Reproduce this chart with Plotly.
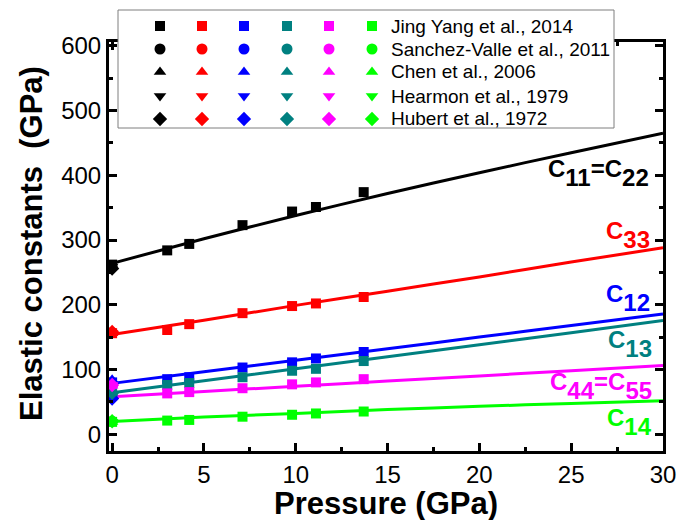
import plotly.graph_objects as go

W, H = 693, 520

# ---------------- data ----------------
constant_labels = [
    "C<sub>11</sub>=C<sub>22</sub>",
    "C<sub>33</sub>",
    "C<sub>12</sub>",
    "C<sub>13</sub>",
    "C<sub>44</sub>=C<sub>55</sub>",
    "C<sub>14</sub>",
]
colors = ["#000000", "#FF0000", "#0000FF", "#008080", "#FF00FF", "#00FF00"]

references = [
    "Jing Yang et al., 2014",
    "Sanchez-Valle et al., 2011",
    "Chen et al., 2006",
    "Hearmon et al., 1979",
    "Hubert et al., 1972",
]
symbols = ["square", "circle", "triangle-up", "triangle-down", "diamond"]

# Jing Yang et al., 2014 (squares), pressure in GPa
jy_pressure = [0, 3.0, 4.2, 7.1, 9.8, 11.1, 13.7]
jy_c11 = [262, 284, 294, 323, 344, 351, 374]
jy_c33 = [156, 161, 170, 187, 198, 202, 212]
jy_c12 = [80, 85, 88, 103, 111, 117, 127]
jy_c13 = [64, 76, 79, 88, 98, 101, 113]
jy_c44 = [60, 63, 65, 71, 77, 80, 85]
jy_c14 = [19, 21, 22, 27, 30, 32, 35]
jy_values = [jy_c11, jy_c33, jy_c12, jy_c13, jy_c44, jy_c14]

# ambient-pressure literature values [C11, C33, C12, C13, C44, C14]
ambient_pressure = [0]
sv_2011 = [259, 157, 76, 60, 75, 20]
chen_2006 = [259, 156, 84, 59, 75, 19]
hearmon_1979 = [259, 156, 76, 59, 76, 19]
hubert_1972 = [256, 158, 55, 64, 76, 20]
ambient_values = [sv_2011, chen_2006, hearmon_1979, hubert_1972]

# fitted curves
fit_pressure = [0, 5, 10, 15, 20, 25, 30]
fit_c11 = [264, 302, 338, 372, 404, 435, 465]
fit_c33 = [154, 176, 199, 221, 243, 266, 288]
fit_c12 = [78.5, 96.4, 114.2, 132.1, 150, 167.9, 185.7]
fit_c13 = [64, 82.6, 101.2, 119.8, 138.3, 156.9, 175.5]
fit_c44 = [58, 66, 74, 82, 90, 98, 106]
fit_c14 = [19.5, 26.5, 32, 38, 43, 47.5, 51.5]
fit_values = [fit_c11, fit_c33, fit_c12, fit_c13, fit_c44, fit_c14]

x_ticks = [0, 5, 10, 15, 20, 25, 30]
y_ticks = [0, 100, 200, 300, 400, 500, 600]

# ---------------- helpers (layout, pixels -> paper) ----------------
def px(x):
    return x / W

def py(y):
    return 1 - y / H

FONT = "Liberation Sans, Arial, sans-serif"

fig = go.Figure()

# fitted lines
for vals, col in zip(fit_values, colors):
    fig.add_trace(go.Scatter(x=fit_pressure, y=vals, mode="lines",
                             line=dict(color=col, width=3, shape="spline", smoothing=0.6),
                             xaxis="x", yaxis="y", hoverinfo="skip"))

# Jing Yang data
for vals, col in zip(jy_values, colors):
    fig.add_trace(go.Scatter(x=jy_pressure, y=vals, mode="markers",
                             marker=dict(symbol=symbols[0], size=10, color=col),
                             xaxis="x", yaxis="y"))

# ambient literature values
for ref_vals, sym in zip(ambient_values, symbols[1:]):
    for v, col in zip(ref_vals, colors):
        fig.add_trace(go.Scatter(x=ambient_pressure, y=[v], mode="markers",
                                 marker=dict(symbol=sym, size=11, color=col),
                                 xaxis="x", yaxis="y"))

# ---------------- custom legend (grid of markers) ----------------
leg_rows = [26, 49, 72, 96, 119]
leg_cols = [160, 202, 244, 287, 329, 372]
leg_text_x = 389
for r, (ref, sym) in enumerate(zip(references, symbols)):
    fig.add_trace(go.Scatter(
        x=leg_cols, y=[leg_rows[r]] * len(leg_cols), mode="markers",
        marker=dict(symbol=sym, size=11 if sym != "square" else 10, color=colors),
        xaxis="x2", yaxis="y2", hoverinfo="skip"))

shapes = [dict(type="rect", xref="x2", yref="y2", x0=118, x1=614, y0=10, y1=128,
               fillcolor="white", line=dict(color="#7f7f7f", width=1), layer="below")]

annotations = []
for r, ref in enumerate(references):
    annotations.append(dict(x=px(leg_text_x), y=py(leg_rows[r]), xref="paper", yref="paper",
                            text=ref, showarrow=False, xanchor="left", yanchor="middle",
                            font=dict(family=FONT, size=19, color="black")))

# constant labels (right aligned)
label_pos = [(651, 173), (652, 235), (652, 298), (654, 344), (654, 386), (654, 422)]
for lab, col, (lx, ly) in zip(constant_labels, colors, label_pos):
    t = lab.replace("<sub>", "<sub><sub><span style='font-size:24px'>").replace("</sub>", "</span></sub></sub>")
    annotations.append(dict(x=px(lx), y=py(ly), xref="paper", yref="paper", text="<b>" + t + "</b>",
                            showarrow=False, xanchor="right", yanchor="middle",
                            font=dict(family=FONT, size=24, color=col)))

# axis titles
annotations.append(dict(x=px(31), y=py(244), xref="paper", yref="paper",
                        text="<b>Elastic constants&nbsp; (GPa)</b>", textangle=-90, showarrow=False,
                        xanchor="center", yanchor="middle", font=dict(family=FONT, size=31, color="black")))
annotations.append(dict(x=px(386), y=py(503), xref="paper", yref="paper",
                        text="<b>Pressure (GPa)</b>", showarrow=False,
                        xanchor="center", yanchor="middle", font=dict(family=FONT, size=31, color="black")))

axis_common = dict(showline=True, linewidth=3, linecolor="black", mirror="allticks",
                   ticks="inside", ticklen=8, tickwidth=2.5, tickcolor="black",
                   showgrid=False, zeroline=False, automargin=False,
                   tickfont=dict(family=FONT, size=24, color="black"))

fig.update_layout(
    template="none",
    width=W, height=H, margin=dict(l=0, r=0, t=0, b=0, pad=0, autoexpand=False),
    paper_bgcolor="white", plot_bgcolor="rgba(0,0,0,0)", showlegend=False,
    xaxis=dict(domain=[px(109), px(663)], range=[-0.17, 30], tickvals=x_ticks,
               minor=dict(dtick=2.5, tick0=0, ticks="inside", ticklen=4, tickwidth=2.5, tickcolor="black"),
               anchor="y", **axis_common),
    yaxis=dict(domain=[py(451), py(42)], range=[-26, 606], tickvals=y_ticks,
               minor=dict(dtick=50, tick0=0, ticks="inside", ticklen=4, tickwidth=2.5, tickcolor="black"),
               anchor="x", **axis_common),
    xaxis2=dict(domain=[0, 1], range=[0, W], visible=False, anchor="y2", fixedrange=True, automargin=False),
    yaxis2=dict(domain=[0, 1], range=[H, 0], visible=False, anchor="x2", fixedrange=True, automargin=False),
    shapes=shapes, annotations=annotations,
)

fig.write_html("out.html", config={"displayModeBar": False},
               post_script="document.body.style.margin='0';document.body.style.padding='0';"
                           "document.body.style.overflow='hidden';")
